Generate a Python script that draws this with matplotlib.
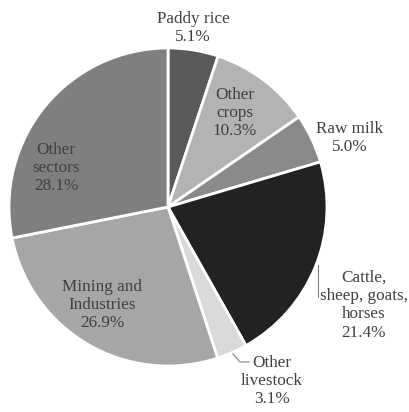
import matplotlib
matplotlib.use('Agg')
import matplotlib.pyplot as plt

# data
sectors = ['Paddy rice', 'Other crops', 'Raw milk', 'Cattle, sheep, goats, horses',
           'Other livestock', 'Mining and Industries', 'Other sectors']
shares = [5.1, 10.3, 5.0, 21.4, 3.1, 26.9, 28.1]
label_text = ['Paddy rice\n5.1%', 'Other\ncrops\n10.3%', 'Raw milk\n5.0%',
              'Cattle,\nsheep, goats,\nhorses\n21.4%', 'Other\nlivestock\n3.1%',
              'Mining and\nIndustries\n26.9%', 'Other\nsectors\n28.1%']
colors = ['#5a5a5a', '#b3b3b3', '#8a8a8a', '#222222', '#d9d9d9', '#a6a6a6', '#7f7f7f']

plt.rcParams['font.family'] = ['Liberation Serif', 'DejaVu Serif']

W, H = 409, 412
fig = plt.figure(figsize=(W/100, H/100), dpi=100)
ax = fig.add_axes([0, 0, 1, 1])

# pixel coords (from top) -> data coords
def py(y):
    return H - y

cx, cy, r = 168, 207, 159
ax.pie(shares, colors=colors, startangle=90, counterclock=False,
       center=(cx, py(cy)), radius=r, frame=True,
       wedgeprops=dict(edgecolor='white', linewidth=2))
ax.set_xlim(0, W)
ax.set_ylim(0, H)
ax.set_aspect('equal')
ax.axis('off')

# label positions (pixel coords)
pos = [(193, 28), (235, 113), (350, 138), (364, 305), (272, 381), (102, 305), (56, 168)]
for txt, (x, y) in zip(label_text, pos):
    ax.text(x, py(y), txt, ha='center', va='center', fontsize=12.3, color='#404040',
            linespacing=1.2)

# leader lines
ax.plot([318, 318], [py(265), py(297)], color='#808080', lw=0.8)
ax.plot([233, 240, 249], [py(354), py(362), py(362)], color='#808080', lw=0.8)

fig.savefig('out.png', dpi=100)
